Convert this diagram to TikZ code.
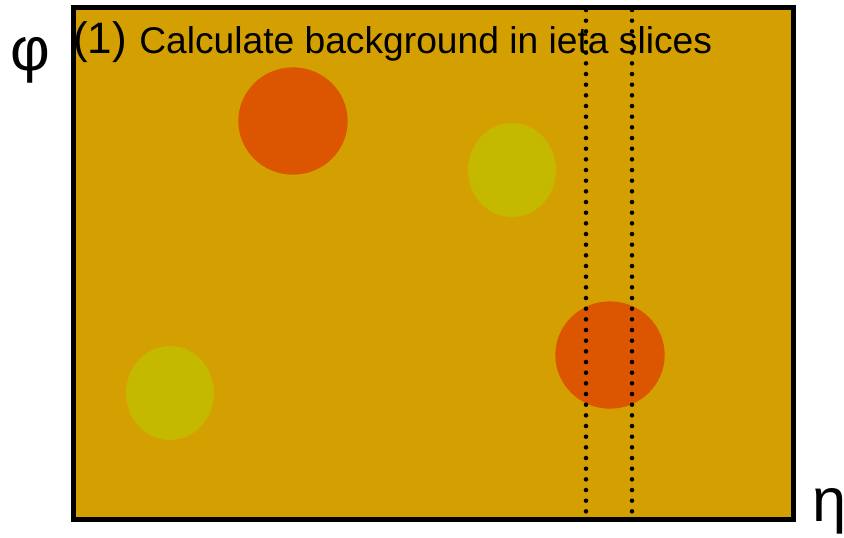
\documentclass[tikz,border=0pt]{standalone}
\usepackage{fontspec}
\setmainfont{Liberation Sans}
\usetikzlibrary{shapes.geometric}

\definecolor{bgdet}{RGB}{212,159,0}
\definecolor{jethot}{RGB}{220,85,0}
\definecolor{jetsoft}{RGB}{197,185,0}

\begin{document}
\begin{tikzpicture}[
		x=0.75pt, y=-0.75pt,
		blob/.style={ellipse, draw=none, inner sep=0pt},
		hotjet/.style={blob, fill=jethot, minimum width=82pt, minimum height=80.5pt},
		softjet/.style={blob, fill=jetsoft, minimum width=66pt, minimum height=70.5pt},
		slice/.style={line width=3.4pt, line cap=round, dash pattern=on 0pt off 8pt},
		axis/.style={font=\fontsize{46}{50}\selectfont, inner sep=0pt, anchor=base west}
		]
		\useasboundingbox (0,0) rectangle (844,537);
		
		% detector plane
		\fill[bgdet] (73.5,7) rectangle (793.5,519);
		
		% jets
		\node[hotjet] (jetA) at (293,121) {};
		\node[softjet] (jetB) at (512,170) {};
		\node[hotjet] (jetC) at (610,355) {};
		\node[softjet] (jetD) at (170,393) {};
		
		% ieta slice
		\coordinate (sliceLT) at (586,10);
		\coordinate (sliceLB) at (586,518);
		\coordinate (sliceRT) at (632,10);
		\coordinate (sliceRB) at (632,518);
		\draw[slice] (sliceLT) -- (sliceLB);
		\draw[slice] (sliceRT) -- (sliceRB);
		
		% frame
		\draw[line width=3.75pt] (73.5,7) rectangle (793.5,519);
		
		% labels
		\node[inner sep=0pt, anchor=base west] (title) at (73,53)
		{\fontsize{33}{36}\selectfont(1) \fontsize{27.9}{30}\selectfont Calculate background in ieta slices};
		\node[axis] (phi) at (10,70) {φ};
		\node[axis] (eta) at (812,521) {η};
		
	\end{tikzpicture}
\end{document}
